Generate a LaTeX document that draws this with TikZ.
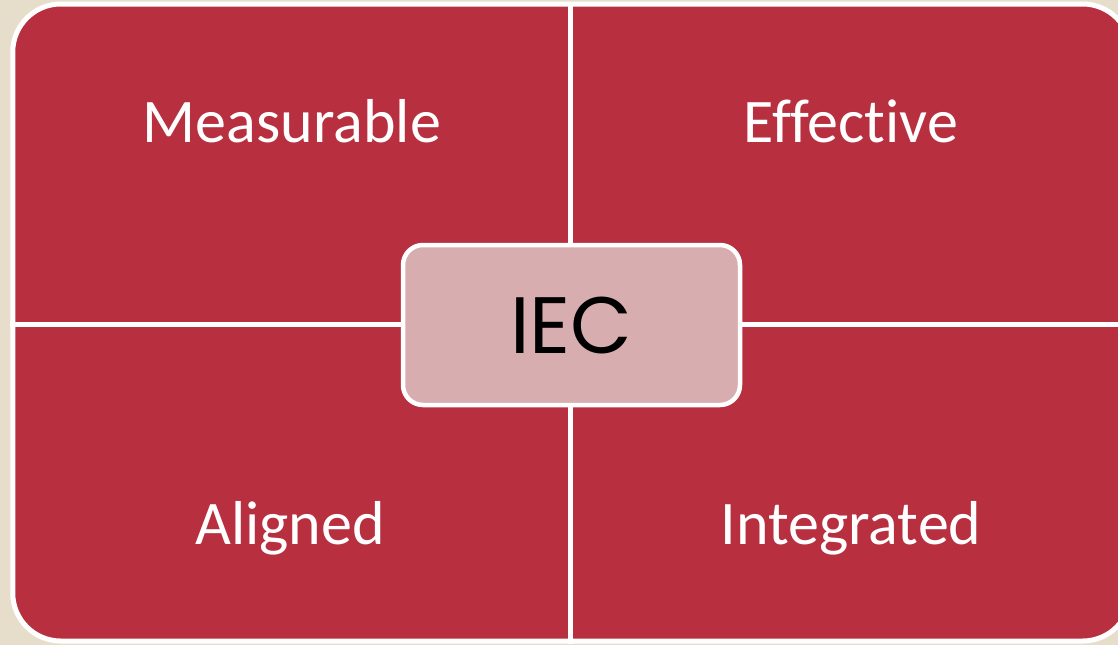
\documentclass[tikz,border=0pt]{standalone}
\usepackage{fontspec}
\setmainfont{Carlito}[Ligatures=NoCommon]
\newfontfamily\centrefont{Poppins}
\usepackage{xcolor}
\usetikzlibrary{positioning}
\definecolor{quadred}{HTML}{B8303F}
\definecolor{centrepink}{HTML}{D8ADB0}
\definecolor{paper}{HTML}{E6DDCB}

\begin{document}
\begin{tikzpicture}[
			x=1pt, y=-1pt,
			panel/.style={rectangle, draw=white, fill=quadred, line width=5pt, rounded corners=48pt, minimum width=1118pt, minimum height=637pt, inner sep=0pt},
			divider/.style={draw=white, line width=5pt},
			centrebox/.style={rectangle, draw=white, fill=centrepink, line width=4.5pt, rounded corners=20pt, minimum width=337pt, minimum height=160pt, inner sep=0pt, font=\centrefont\fontsize{80}{80}\selectfont},
			label/.style={anchor=base, text=white, inner sep=0pt, font=\fontsize{62}{62}\selectfont}
			]
			
			% Background
			\fill[paper] (0,0) rectangle (1118,645);
			\useasboundingbox (0,0) rectangle (1118,645);
			
			% Matrix panel
			\node[panel] (panel) at (571.75,322.5) {};
			
			% Dividers
			\draw[divider] (panel.north -| 570.5,0) -- (panel.south -| 570.5,0);
			\draw[divider] (panel.west |- 0,324.5) -- (panel.east |- 0,324.5);
			
			% Quadrant labels
			\node[label] (measurable) at (292,142) {Measurable};
			\node[label] (effective) at (851,142) {Effective};
			\node[label] (aligned) at (290,544) {Aligned};
			\node[label] (integrated) at (851,544) {Integrated};
			
			% Centre
			\node[centrebox] (iec) at (571.5,325) {IEC};
			
		\end{tikzpicture}
\end{document}
